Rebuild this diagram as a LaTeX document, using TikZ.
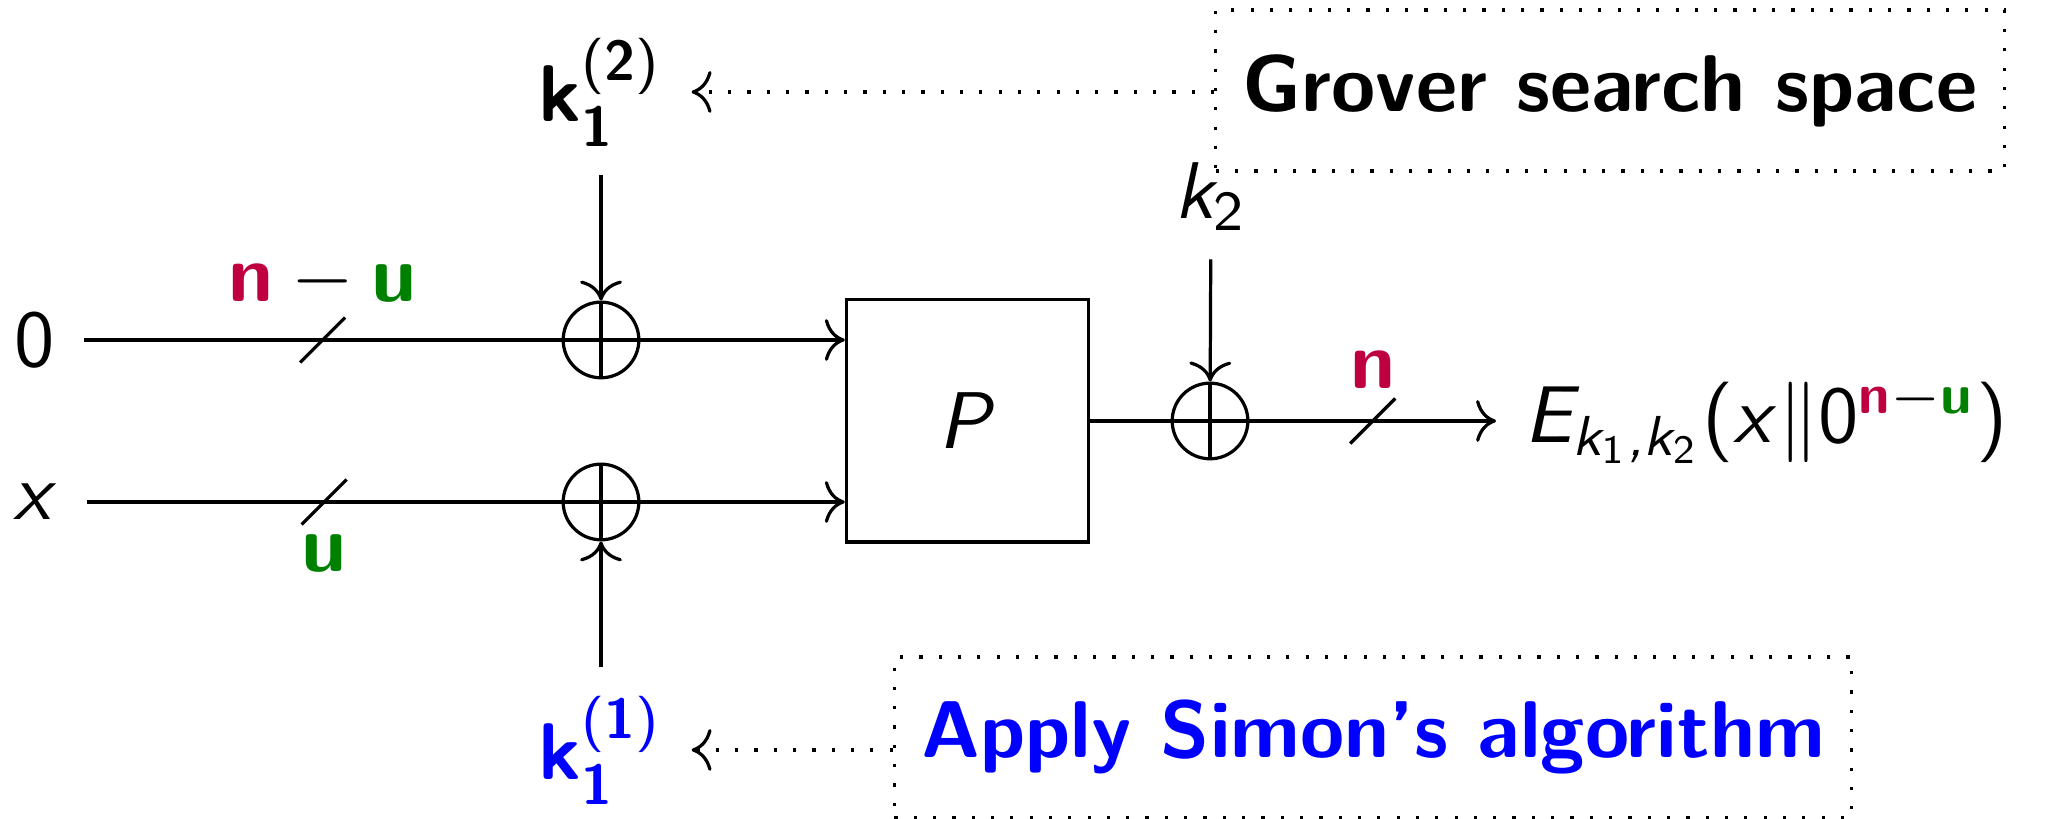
\documentclass[tikz,border=0pt]{standalone}
\usepackage{xcolor}
\usetikzlibrary{positioning, arrows.meta}
% sans serif math
\DeclareSymbolFont{operators}{OT1}{cmss}{m}{n}
\DeclareSymbolFont{letters}{OT1}{cmss}{m}{sl}
\DeclareMathAlphabet{\mathbf}{OT1}{cmss}{bx}{n}
\mathcode`\,="612C

\begin{document}
\begin{tikzpicture}[
    x=0.4367cm, y=-0.4367cm,
    every node/.style={font=\sffamily},
    xorgate/.style={circle, draw, minimum size=9.4pt, inner sep=0pt},
    perm/.style={rectangle, draw, minimum size=30.1pt},
    note/.style={rectangle, draw, dotted, minimum height=20pt,
      font=\sffamily\bfseries},
    bus/.style={minimum size=5.2pt, inner sep=0pt},
    buslabel/.style={inner sep=0pt, label distance=1pt},
    arr/.style={-{To}}]
    \useasboundingbox (0,0) rectangle (20.48,8.19);
    % inputs, gates and the permutation
    \node (in0) at (0.35,3.40) {$0$};
    \node (inx) at (0.36,5.02) {$x$};
    \node[xorgate] (xa) at (6.01,3.40) {};
    \node[xorgate] (xb) at (6.01,5.02) {};
    \node[perm] (perm) at (9.675,4.21) {$P$};
    \node[xorgate] (xc) at (12.10,4.21) {};
    \node[anchor=west] (out) at (14.96,4.21)
      {$E_{k_1,k_2}(x\|0^{\textcolor{purple}{\mathbf{n}}-\textcolor{green!50!black}{\mathbf{u}}})$};
    % keys
    \node (k12) at (6.01,0.92) {$\mathbf{k}_{\mathbf{1}}^{\mathbf{(2)}}$};
    \node[text=blue] (k11) at (6.01,7.50) {$\mathbf{k}_{\mathbf{1}}^{\mathbf{(1)}}$};
    \node (k2) at (12.11,1.97) {$k_2$};
    % notes
    \node[note] (grover) at (16.10,0.905) {Grover search space};
    \node[note, text=blue] (simon) at (13.73,7.375) {Apply Simon's algorithm};

    \draw (in0) -- node[bus, label={[buslabel]above:{$\textcolor{purple}{\mathbf{n}} - \textcolor{green!50!black}{\mathbf{u}}$}}] (s0) {} (xa);
    \draw (inx) -- node[bus, label={[buslabel]below:{$\textcolor{green!50!black}{\mathbf{u}}$}}] (s1) {} (xb);
    \draw[arr] (xa) -- (perm.west |- xa);
    \draw[arr] (xb) -- (perm.west |- xb);
    \draw (perm) -- (xc);
    \draw[arr] (xc) -- node[bus, label={[buslabel]above:{$\textcolor{purple}{\mathbf{n}}$}}] (s2) {} (out);
    \draw[arr] (k12) -- (xa);
    \draw[arr] (k11) -- (xb);
    \draw[arr] (k2) -- (xc);
    \foreach \g in {xa,xb,xc}
      \draw (\g.north) -- (\g.south) (\g.west) -- (\g.east);
    \foreach \s in {s0,s1,s2}
      \draw (\s.south west) -- (\s.north east);
    \draw[arr, dotted] (grover.west |- k12) -- (k12);
    \draw[arr, dotted] (simon.west |- k11) -- (k11);
  \end{tikzpicture}
\end{document}
